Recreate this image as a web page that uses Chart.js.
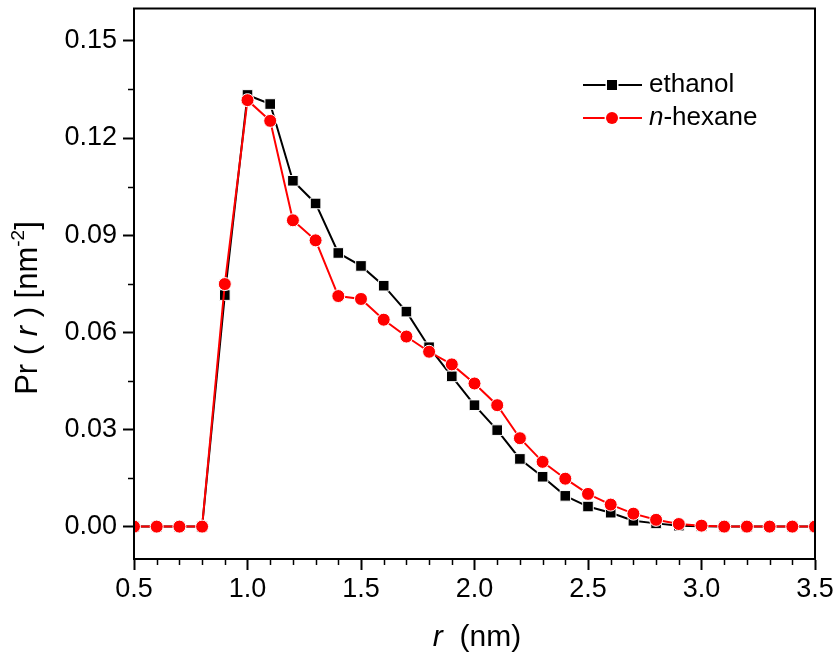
<!DOCTYPE html>
<html>
<head>
<meta charset="utf-8">
<script src="https://cdn.jsdelivr.net/npm/chart.js@4.4.1/dist/chart.umd.min.js"></script>
<style>
  html, body { margin: 0; padding: 0; background: #fff; }
  #wrap { width: 837px; height: 655px; position: relative; }
</style>
</head>
<body>
<div id="wrap"><canvas id="prChart"></canvas></div>
<script>
// r values (nm)
const rValues = [0.5, 0.6, 0.7, 0.8, 0.9, 1.0, 1.1, 1.2, 1.3, 1.4, 1.5, 1.6, 1.7, 1.8, 1.9, 2.0,
  2.1, 2.2, 2.3, 2.4, 2.5, 2.6, 2.7, 2.8, 2.9, 3.0, 3.1, 3.2, 3.3, 3.4, 3.5];

// Pr(r)
const ethanol = [0, 0, 0, 0, 0.0715, 0.1333, 0.1305, 0.1068, 0.0998, 0.0845, 0.0805, 0.0744, 0.0664,
  0.0554, 0.0464, 0.0375, 0.0298, 0.0209, 0.0154, 0.0095, 0.0062, 0.0043, 0.0018, 0.0010, 0.0003,
  0.0001, 0, 0, 0, 0, 0];
const hexane = [0, 0, 0, 0, 0.0749, 0.1317, 0.1253, 0.0946, 0.0884, 0.0712, 0.0703, 0.0639, 0.0587,
  0.0540, 0.0501, 0.0442, 0.0375, 0.0273, 0.0200, 0.0148, 0.0101, 0.0068, 0.0040, 0.0021, 0.0008,
  0.0003, 0, 0, 0, 0, 0];

// ticks
const xMajor = [0.5, 1.0, 1.5, 2.0, 2.5, 3.0, 3.5];
const xMinor = [0.6, 0.7, 0.8, 0.9, 1.1, 1.2, 1.3, 1.4, 1.6, 1.7, 1.8, 1.9, 2.1, 2.2, 2.3, 2.4,
  2.6, 2.7, 2.8, 2.9, 3.1, 3.2, 3.3, 3.4];
const yMajor = [0, 0.03, 0.06, 0.09, 0.12, 0.15];
const yMinor = [0.015, 0.045, 0.075, 0.105, 0.135];

const FONT = "'Liberation Sans', Arial, sans-serif";
Chart.defaults.font.family = FONT;
Chart.defaults.color = '#000';

function pts(ys) {
  return rValues.map((x, i) => ({ x, y: ys[i] }));
}

// draw a run of text pieces (normal / italic / superscript)
function drawRuns(ctx, runs, x, y, size) {
  const fontOf = r => (r.italic ? 'italic ' : '') + (r.sup ? Math.round(size * 0.6) : size) + 'px ' + FONT;
  let total = 0;
  runs.forEach(r => { ctx.font = fontOf(r); total += ctx.measureText(r.t).width; });
  let cx = x - total / 2;
  runs.forEach(r => {
    ctx.font = fontOf(r);
    ctx.fillText(r.t, cx, r.sup ? y - size * 0.42 : y);
    cx += ctx.measureText(r.t).width;
  });
}

const extras = {
  id: 'extras',
  afterDraw(chart) {
    const { ctx, chartArea: a } = chart;
    const xs = chart.scales.x, ys = chart.scales.y;
    ctx.save();
    ctx.strokeStyle = '#000';
    ctx.lineWidth = 2;
    ctx.strokeRect(a.left, a.top, a.right - a.left, a.bottom - a.top);

    // minor ticks
    ctx.beginPath();
    xMinor.forEach(v => {
      const px = Math.round(xs.getPixelForValue(v)) + 0.5;
      ctx.moveTo(px, a.bottom); ctx.lineTo(px, a.bottom + 6);
    });
    yMinor.forEach(v => {
      const py = Math.round(ys.getPixelForValue(v)) + 0.5;
      ctx.moveTo(a.left, py); ctx.lineTo(a.left - 6, py);
    });
    ctx.lineWidth = 1.5;
    ctx.stroke();

    // legend
    const rows = [
      { ds: chart.data.datasets[0], y: 85, runs: [{ t: 'ethanol' }] },
      { ds: chart.data.datasets[1], y: 118, runs: [{ t: 'n', italic: true }, { t: '-hexane' }] }
    ];
    rows.forEach(row => {
      ctx.strokeStyle = row.ds.borderColor;
      ctx.lineWidth = 2;
      ctx.beginPath();
      ctx.moveTo(583, row.y); ctx.lineTo(642, row.y);
      ctx.stroke();
      ctx.fillStyle = row.ds.backgroundColor;
      ctx.strokeStyle = '#fff';
      ctx.lineWidth = 3;
      ctx.beginPath();
      if (row.ds.pointStyle === 'rect') ctx.rect(612 - 5, row.y - 5, 10, 10);
      else ctx.arc(612, row.y, 6, 0, Math.PI * 2);
      ctx.stroke();
      ctx.fill();
      ctx.fillStyle = '#000';
      ctx.textBaseline = 'middle';
      ctx.textAlign = 'left';
      let cx = 649;
      row.runs.forEach(r => {
        ctx.font = (r.italic ? 'italic ' : '') + '26px ' + FONT;
        ctx.fillText(r.t, cx, row.y);
        cx += ctx.measureText(r.t).width;
      });
    });

    // axis titles
    ctx.fillStyle = '#000';
    ctx.textBaseline = 'alphabetic';
    ctx.textAlign = 'left';
    drawRuns(ctx, [{ t: 'r', italic: true }, { t: '  (nm)' }], 477, 646, 30);

    ctx.translate(37, 308);
    ctx.rotate(-Math.PI / 2);
    drawRuns(ctx, [{ t: 'Pr ( ' }, { t: 'r', italic: true }, { t: ' ) [nm' }, { t: '-2', sup: true }, { t: ']' }], 0, 0, 31);
    ctx.restore();
  }
};

new Chart(document.getElementById('prChart'), {
  type: 'line',
  data: {
    datasets: [{
      label: 'ethanol',
      data: pts(ethanol),
      borderColor: '#000',
      backgroundColor: '#000',
      borderWidth: 2,
      pointStyle: 'rect',
      pointRadius: 7.5,
      pointBorderColor: '#fff',
      pointBorderWidth: 1,
      order: 2
    }, {
      label: 'n-hexane',
      data: pts(hexane),
      borderColor: '#ff0000',
      backgroundColor: '#ff0000',
      borderWidth: 2,
      pointStyle: 'circle',
      pointRadius: 6.5,
      pointBorderColor: '#fff',
      pointBorderWidth: 1,
      order: 1
    }]
  },
  options: {
    responsive: true,
    maintainAspectRatio: false,
    animation: false,
    layout: { padding: { top: 5, right: 22, left: 0, bottom: 0 } },
    plugins: {
      legend: { display: false },
      tooltip: { enabled: false }
    },
    scales: {
      x: {
        type: 'linear',
        min: 0.5,
        max: 3.5,
        afterBuildTicks: s => { s.ticks = xMajor.map(v => ({ value: v })); },
        afterFit: s => { s.height = 96; s.paddingLeft = 0; s.paddingRight = 0; },
        ticks: {
          font: { size: 27 },
          padding: 3,
          maxRotation: 0,
          callback: v => Number(v).toFixed(1)
        },
        grid: { drawOnChartArea: false, drawTicks: true, tickLength: 11, tickWidth: 2, tickColor: '#000' },
        border: { display: true, color: '#000', width: 2 }
      },
      y: {
        min: -0.01,
        max: 0.16,
        afterBuildTicks: s => { s.ticks = yMajor.map(v => ({ value: v })); },
        afterFit: s => { s.width = 134; s.paddingTop = 0; s.paddingBottom = 0; },
        ticks: {
          font: { size: 27 },
          padding: 6,
          callback: v => Number(v).toFixed(2)
        },
        grid: { drawOnChartArea: false, drawTicks: true, tickLength: 11, tickWidth: 2, tickColor: '#000' },
        border: { display: true, color: '#000', width: 2 }
      }
    }
  },
  plugins: [extras]
});
</script>
</body>
</html>
